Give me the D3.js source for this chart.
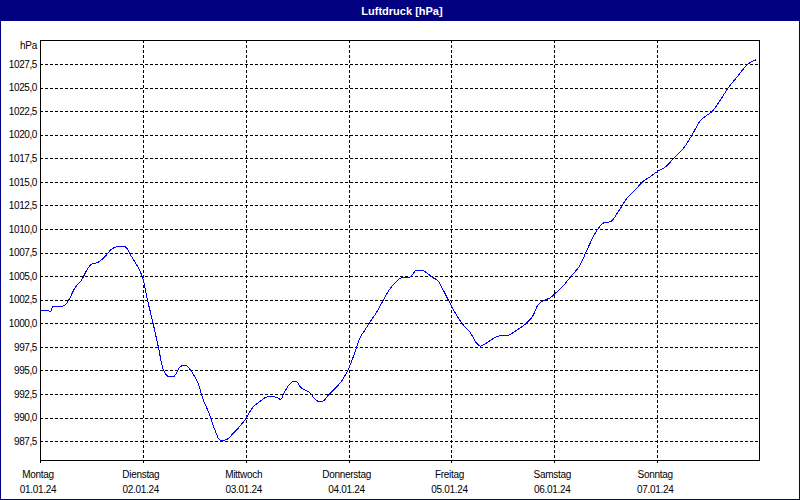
<!DOCTYPE html>
<html>
<head>
<meta charset="utf-8">
<script src="https://cdn.jsdelivr.net/npm/d3@7/dist/d3.min.js"></script>
<style>
  html, body { margin: 0; padding: 0; background: #fff; }
  svg { display: block; }
  text { font-family: "Liberation Sans", Arial, sans-serif; }
</style>
</head>
<body>
<svg id="chart" width="800" height="500"></svg>
<script>
// ---- data ----
const title = "Luftdruck [hPa]";
const unitLabel = "hPa";
const dayNames = ["Montag", "Dienstag", "Mittwoch", "Donnerstag", "Freitag", "Samstag", "Sonntag"];
const dayDates = ["01.01.24", "02.01.24", "03.01.24", "04.01.24", "05.01.24", "06.01.24", "07.01.24"];
const yTicks = [987.5, 990.0, 992.5, 995.0, 997.5, 1000.0, 1002.5, 1005.0, 1007.5, 1010.0, 1012.5, 1015.0, 1017.5, 1020.0, 1022.5, 1025.0, 1027.5];
// hours since 01.01.24 00:00
const hours = [0.2, 1.9, 2.5, 3.0, 5.0, 6.1, 6.9, 8.2, 9.6, 11.0, 12.0, 13.5, 15.1, 16.6, 17.8, 19.4, 20.1, 21.3, 22.9, 24.0,
  25.0, 26.4, 27.6, 28.8, 30.2, 31.1, 32.7, 33.8, 35.4, 36.9, 38.1, 39.3, 40.8, 42.0, 43.2, 45.1, 47.8, 49.9, 50.9, 52.5,
  53.7, 55.2, 56.2, 56.8, 59.0, 59.9, 60.7, 61.8, 63.0, 64.2, 65.3, 66.1, 67.3, 69.6, 70.8, 72.2, 73.1, 74.7, 75.8, 77.0,
  78.6, 80.1, 81.7, 83.2, 84.4, 86.2, 87.9, 89.1, 90.2, 91.6, 92.9, 94.1, 95.7, 97.2, 98.8, 100.3, 101.9, 102.8, 103.8, 105.4,
  107.3, 108.9, 111.2, 113.6, 115.1, 116.0, 117.4, 119.0, 120.6, 122.1, 124.1, 126.0, 127.6, 129.5, 131.1, 131.8, 133.0, 134.9, 136.9, 138.8,
  140.8, 142.3, 143.9, 146.1, 147.8, 150.1, 152.1, 154.0, 155.6, 156.7, 158.7, 160.6, 162.6, 164.5, 165.5, 167.1];
const pressure = [1001.32, 1001.32, 1001.26, 1001.79, 1001.79, 1002.03, 1002.63, 1003.80, 1004.50, 1005.71, 1006.27, 1006.45, 1007.04, 1007.83, 1008.10, 1008.18, 1008.04, 1007.12, 1005.92, 1004.75,
  1002.63, 999.98, 997.51, 995.04, 994.33, 994.33, 995.39, 995.57, 994.86, 993.63, 991.86, 990.62, 988.68, 987.62, 987.62, 988.33, 989.74, 991.22, 991.57, 992.10,
  992.28, 992.14, 991.93, 992.49, 993.80, 993.80, 993.27, 992.92, 992.63, 991.93, 991.68, 991.75, 992.39, 993.45, 994.16, 995.39, 996.45, 998.50, 999.27, 1000.15,
  1001.21, 1002.45, 1003.69, 1004.47, 1004.82, 1004.86, 1005.63, 1005.63, 1005.35, 1004.86, 1004.50, 1003.51, 1002.10, 1000.86, 999.80, 999.09, 997.87, 997.58, 997.79, 998.29,
  998.67, 998.67, 999.27, 1000.05, 1000.86, 1001.82, 1002.38, 1002.70, 1003.33, 1003.99, 1005.10, 1006.16, 1007.75, 1009.52, 1010.50, 1010.72, 1010.75, 1011.81, 1013.23, 1014.11,
  1015.09, 1015.52, 1016.05, 1016.65, 1017.47, 1018.53, 1019.94, 1021.45, 1022.06, 1022.41, 1023.65, 1024.99, 1026.11, 1027.17, 1027.60, 1027.96];

// ---- layout ----
const W = 800, H = 500;
const plot = { left: 40, top: 40, right: 760, bottom: 460 };
const navy = "#000080";
const start = new Date(2024, 0, 1, 0, 0);
const end = new Date(2024, 0, 8, 0, 0);

const svg = d3.select("#chart");

// background + border + title bar
svg.append("rect").attr("x", 0).attr("y", 0).attr("width", W).attr("height", H).attr("fill", "#fff");
svg.append("rect").attr("x", 0).attr("y", 0).attr("width", W).attr("height", 21).attr("fill", navy);
svg.append("rect").attr("x", 0.5).attr("y", 0.5).attr("width", W - 1).attr("height", H - 1)
  .attr("fill", "none").attr("stroke", navy).attr("stroke-width", 1);
svg.append("text").attr("x", 402).attr("y", 14.5).attr("text-anchor", "middle")
  .attr("fill", "#fff").attr("font-weight", "bold").attr("font-size", "11px").text(title);

const x = d3.scaleTime().domain([start, end]).range([plot.left, plot.right]);
const y = d3.scaleLinear().domain([985.5, 1030.05]).range([plot.bottom, plot.top]);

const dayTimes = dayNames.map((_, i) => d3.timeDay.offset(start, i));

// horizontal gridlines
const grid = svg.append("g").attr("stroke", "#000").attr("stroke-width", 1).attr("stroke-dasharray", "3,2").attr("shape-rendering", "crispEdges");
grid.selectAll("line.h").data(yTicks).join("line").attr("class", "h")
  .attr("x1", plot.left).attr("x2", plot.right)
  .attr("y1", d => Math.round(y(d)) + 0.5).attr("y2", d => Math.round(y(d)) + 0.5);
// vertical gridlines
grid.selectAll("line.v").data(dayTimes.slice(1)).join("line").attr("class", "v")
  .attr("x1", d => Math.round(x(d)) + 0.5).attr("x2", d => Math.round(x(d)) + 0.5)
  .attr("y1", plot.top).attr("y2", plot.bottom);

// y axis labels
const yAxis = d3.axisLeft(y).tickValues(yTicks).tickSize(0).tickPadding(0)
  .tickFormat(d => d3.format(".1f")(d).replace(".", ","));
const gy = svg.append("g").attr("transform", `translate(${plot.left - 3},0)`).call(yAxis);
gy.select(".domain").remove();
gy.selectAll("text").attr("font-size", "10px").attr("letter-spacing", "-0.4px").attr("fill", "#000")
  .attr("font-family", "'Liberation Sans', Arial, sans-serif");
svg.append("text").attr("x", plot.left - 3).attr("y", 48.5).attr("text-anchor", "end")
  .attr("font-size", "10px").attr("letter-spacing", "-0.3px").attr("fill", "#000").text(unitLabel);

// x axis ticks + labels
const xAxis = d3.axisBottom(x).tickValues(dayTimes).tickSize(3).tickFormat("");
const gx = svg.append("g").attr("transform", `translate(0,${plot.bottom})`).call(xAxis);
gx.select(".domain").remove();
gx.selectAll("line").attr("stroke", "#000").attr("shape-rendering", "crispEdges");

const lab = svg.append("g").attr("font-size", "10px").attr("letter-spacing", "-0.3px").attr("fill", "#000").attr("text-anchor", "middle");
lab.selectAll("text.n").data(dayTimes).join("text").attr("class", "n")
  .attr("x", d => x(d) - 2).attr("y", 477.5).text((d, i) => dayNames[i]);
lab.selectAll("text.d").data(dayTimes).join("text").attr("class", "d")
  .attr("x", d => x(d) - 2).attr("y", 492.5).text((d, i) => dayDates[i]);

// plot frame
svg.append("rect").attr("x", plot.left + 0.5).attr("y", plot.top + 0.5)
  .attr("width", plot.right - plot.left - 1).attr("height", plot.bottom - plot.top)
  .attr("fill", "none").attr("stroke", "#000").attr("stroke-width", 1).attr("shape-rendering", "crispEdges");

// data line
const data = hours.map((h, i) => ({ t: new Date(start.getTime() + h * 3600e3), v: pressure[i] }));
const line = d3.line().x(d => x(d.t)).y(d => y(d.v)).curve(d3.curveMonotoneX);
svg.append("path").datum(data).attr("d", line).attr("fill", "none").attr("stroke", "#0000ff")
  .attr("stroke-width", 1).attr("shape-rendering", "crispEdges");
</script>
</body>
</html>
